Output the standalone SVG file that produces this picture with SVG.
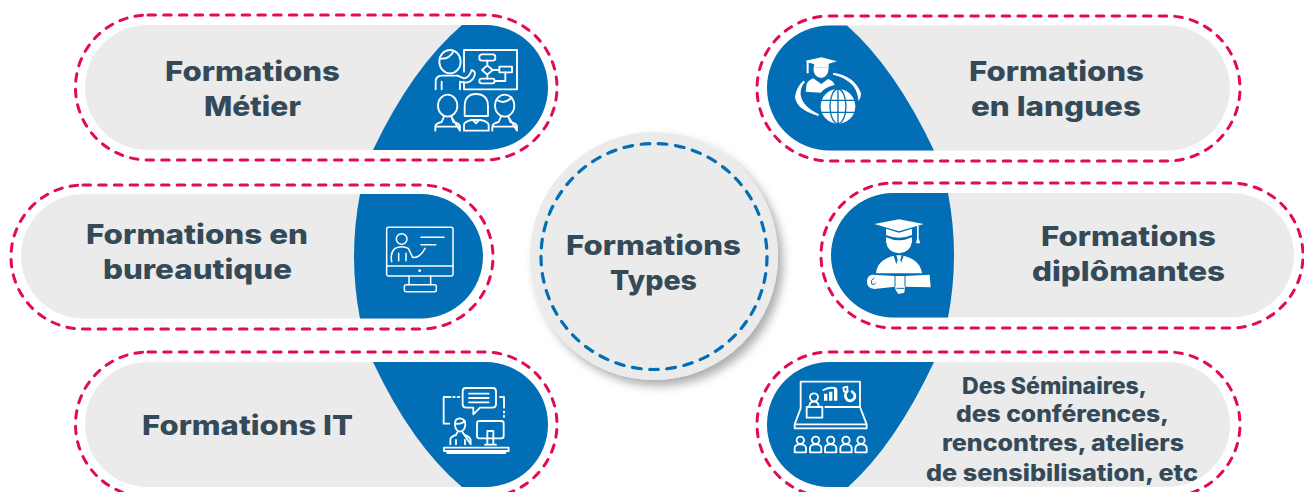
<svg xmlns="http://www.w3.org/2000/svg" width="1304" height="492" viewBox="0 0 1304 492">
<style>
.pill{fill:#ebebeb}
.blue{fill:#016eb6}
.dash{fill:none;stroke:#e20b55;stroke-width:3;stroke-dasharray:7.500 8.200;stroke-linecap:round}
text{font-family:"Inter","Liberation Sans",sans-serif;font-weight:800;fill:#354a58;font-size:27.5px;text-anchor:start}
.sm{font-size:22.5px}
.li{fill:none;stroke:#fff;stroke-width:5.500;stroke-linejoin:round;stroke-linecap:round}
.fi{fill:#fff;stroke:none}
</style>
<defs>
<filter id="sh" x="-20%" y="-20%" width="140%" height="140%"><feDropShadow dx="5" dy="6" stdDeviation="5" flood-color="#000" flood-opacity=".32"/></filter>
</defs>
<g id="connectors"></g>

<g id="node-metier">
<rect class="pill" x="85" y="25" width="463" height="125" rx="62.500"/>
<path class="blue" d="M462,25H485.500A62.500,62.500 0 0 1 485.500,150H373Q412,68 462,25Z"/>
<rect class="dash" x="75.500" y="15" width="481.500" height="145" rx="72.500"/>
<g transform="translate(370,10) scale(.33333)" class="li">
<path d="M282,185V120H441V238H282V215"/>
<rect x="328" y="133" width="48" height="19" rx="8"/>
<path d="M352,152V165M352,166L368,180L352,194L336,180ZM368,180H388"/>
<rect x="388" y="170" width="38" height="17"/>
<rect x="328" y="206" width="46" height="14" rx="7"/>
<path d="M374,213H406V187"/>
<path d="M352,194V206"/>
<ellipse cx="240" cy="155" rx="32" ry="35"/>
<path d="M210,145Q235,150 250,125"/>
<path d="M197,238V215Q197,198 215,197H262L282,205Q298,203 305,180Q322,185 310,205Q295,224 270,215V238M215,215V238"/>
<ellipse cx="233" cy="287" rx="29" ry="33"/>
<path d="M196,362V350Q196,340 215,336L222,320M244,320L250,336Q270,340 270,350V362ZM196,350H270"/>
<path d="M284,318V290Q284,252 318,252Q354,252 354,290V318Z"/>
<path d="M282,362V345Q282,335 305,330H332Q356,335 356,345V362ZM310,332L318,340L326,332"/>
<ellipse cx="404" cy="287" rx="29" ry="33"/>
<path d="M380,270Q405,285 425,262"/>
<path d="M367,362V350Q367,340 386,336L393,320M415,320L421,336Q441,340 441,350V362ZM367,350H441"/>
</g>
<text x="165" y="81" textLength="175" lengthAdjust="spacingAndGlyphs">Formations</text>
<text x="204" y="116" textLength="97" lengthAdjust="spacingAndGlyphs">Métier</text>
</g>

<g id="node-langues">
<rect class="pill" x="767" y="25.500" width="463" height="125" rx="62.500"/>
<path class="blue" d="M847,25.500H829.500A62.500,62.500 0 0 0 829.500,150.500H934Q895,68 847,25.500Z"/>
<rect class="dash" x="757" y="16" width="483" height="145" rx="72.500"/>
<g transform="translate(750,10) scale(.33333)">
<path class="fi" d="M167,152L214,142L261,154L236,161V172L192,172V162L176,158V190H170V156Z"/>
<path class="fi" d="M190,172H236Q236,202 213,204Q190,202 190,172Z"/>
<path class="fi" d="M167,245L170,222Q176,210 190,205L214,222L234,207Q250,212 254,225Q225,232 212,248Z"/>
<path class="fi" d="M160,212Q138,232 135,262Q140,300 205,318L207,313Q158,290 152,255Q150,232 165,216Z"/>
<path class="fi" d="M250,188Q315,198 333,250Q334,262 326,274Q322,235 300,218Q278,200 249,194Z"/>
<circle class="fi" cx="264" cy="289" r="52"/>
<g fill="none" stroke="#016eb6" stroke-width="4">
<ellipse cx="264" cy="289" rx="24" ry="52"/>
<path d="M264,237V341M212,271H316M212,307H316"/>
</g>
</g>
<text x="969" y="81" textLength="175" lengthAdjust="spacingAndGlyphs">Formations</text>
<text x="971" y="116" textLength="170" lengthAdjust="spacingAndGlyphs">en langues</text>
</g>

<g id="node-bureautique">
<rect class="pill" x="21" y="194" width="462" height="124.500" rx="62.250"/>
<path class="blue" d="M360,194H420.750A62.250,62.250 0 0 1 420.750,318.500H360Q348,256 360,194Z"/>
<rect class="dash" x="11" y="185" width="482" height="144" rx="72"/>
<g transform="translate(340,180) scale(.33333)" class="li" style="stroke-width:4.500">
<rect x="140" y="142" width="199" height="146" rx="5"/>
<path d="M140,258H339M207,288V314M272,288V314"/>
<rect x="193" y="314" width="96" height="21" rx="6"/>
<circle cx="185" cy="177" r="16"/>
<path d="M155,245Q150,218 165,205Q185,195 205,205L218,232Q240,235 255,205M176,220V242M198,220V242M243,172H312M243,194H287"/>
<circle cx="239" cy="272" r="2" fill="#fff"/>
</g>
<text x="86" y="244" textLength="222" lengthAdjust="spacingAndGlyphs">Formations en</text>
<text x="103" y="279" textLength="189" lengthAdjust="spacingAndGlyphs">bureautique</text>
</g>

<g id="node-diplomantes">
<rect class="pill" x="831" y="193" width="463" height="124.500" rx="62.250"/>
<path class="blue" d="M948,193H893.250A62.250,62.250 0 0 0 893.250,317.500H948Q960,255 948,193Z"/>
<rect class="dash" x="821" y="183" width="482" height="145" rx="72.500"/>
<g transform="translate(815,180) scale(.33333)">
<path class="fi" d="M178,132L252,118L326,132L252,154Z"/>
<path class="fi" d="M213,146L252,158L291,146V165Q252,182 213,165Z"/>
<path class="fi" d="M213,172Q252,190 291,172V185Q285,218 252,220Q218,218 213,185Z"/>
<path class="fi" d="M306,138H311V176L316,190H303L306,176Z"/>
<path class="fi" d="M183,280Q186,240 236,227L250,272L266,227Q316,240 321,280Z"/>
<path class="fi" d="M244,226H260L256,240L262,258L252,275L242,258L248,240Z"/>
<path class="fi" d="M172,284L240,288H268L344,284L347,322L270,320L268,338L250,342L242,330L240,320L178,327Q156,325 156,305Q156,286 172,284Z"/>
<path fill="none" stroke="#016eb6" stroke-width="3" d="M178,294Q165,300 170,312Q178,318 182,308M240,288V320M270,288V320M244,325H268"/>
</g>
<text x="1041" y="246" textLength="175" lengthAdjust="spacingAndGlyphs">Formations</text>
<text x="1032" y="281" textLength="193" lengthAdjust="spacingAndGlyphs">diplômantes</text>
</g>

<g id="node-it">
<rect class="pill" x="85" y="362" width="463" height="125" rx="62.500"/>
<path class="blue" d="M373,362H485.500A62.500,62.500 0 0 1 485.500,487H462Q412,445 373,362Z"/>
<rect class="dash" x="75.500" y="352" width="481.500" height="145" rx="72.500"/>
<g transform="translate(370,345) scale(.33333)" class="li">
<path d="M288,129H368Q378,129 378,139V178Q378,188 368,188H330L310,208V188H288Q278,188 278,178V139Q278,129 288,129Z"/>
<path d="M297,146H356M297,159H356M297,172H356"/>
<path d="M242,156H221V236H238M250,156H254M263,156H268M390,156H402V188M402,199V203M402,212V216"/>
<path d="M255,236Q255,220 270,220Q287,222 286,240Q284,258 270,260Q256,258 255,240ZM255,235Q272,240 285,228"/>
<path d="M241,298V285Q241,275 258,270L262,262M278,262L283,270Q300,275 302,285V298ZM258,298V285M285,298V285"/>
<rect x="321" y="228" width="80" height="52" rx="7"/>
<path d="M352,280V258H370V298M352,280V298M345,299H378"/>
<rect x="222" y="308" width="194" height="10"/>
<path d="M232,318V324H406V318"/>
</g>
<text x="142" y="435" textLength="211" lengthAdjust="spacingAndGlyphs">Formations IT</text>
</g>

<g id="node-seminaires">
<rect class="pill" x="767" y="362" width="463" height="125" rx="62.500"/>
<path class="blue" d="M934,362H829.500A62.500,62.500 0 0 0 829.500,487H848Q895,445 934,362Z"/>
<rect class="dash" x="757" y="352" width="483" height="145" rx="72.500"/>
<g transform="translate(750,345) scale(.33333)" class="li">
<path d="M152,190V110H330V186M226,186H330M152,190L134,238V250H350V238L330,186M134,238H350"/>
<circle cx="192" cy="157" r="12"/>
<path d="M178,185Q178,170 192,170Q206,170 206,185"/>
<rect x="170" y="186" width="47" height="32"/>
<path d="M222,146H232V167H222ZM237,140H247V167H237ZM252,132H262V167H252Z" style="fill:#fff;stroke:none"/>
<path d="M220,135Q240,125 258,130"/>
<path d="M292,138Q280,152 292,165Q305,172 314,158Q317,147 306,140" style="stroke-width:8"/>
<path d="M280,128L292,125V140L282,140Z"/>
<g>
<circle cx="151" cy="286" r="11"/><path d="M134,322V310Q134,298 151,298Q168,298 168,310V322Z"/>
<circle cx="197" cy="286" r="11"/><path d="M180,322V310Q180,298 197,298Q214,298 214,310V322Z"/>
<circle cx="242" cy="286" r="11"/><path d="M225,322V310Q225,298 242,298Q259,298 259,310V322Z"/>
<circle cx="288" cy="286" r="11"/><path d="M271,322V310Q271,298 288,298Q305,298 305,310V322Z"/>
<circle cx="333" cy="286" r="11"/><path d="M316,322V310Q316,298 333,298Q350,298 350,310V322Z"/>
</g>
</g>
<text class="sm" x="962" y="394" textLength="185" lengthAdjust="spacingAndGlyphs">Des Séminaires,</text>
<text class="sm" x="956" y="422" textLength="213" lengthAdjust="spacingAndGlyphs">des conférences,</text>
<text class="sm" x="942" y="451" textLength="242" lengthAdjust="spacingAndGlyphs">rencontres, ateliers</text>
<text class="sm" x="926" y="481" textLength="272" lengthAdjust="spacingAndGlyphs">de sensibilisation, etc</text>
</g>

<g id="node-center">
<circle cx="654" cy="256" r="124" fill="#ebebeb" filter="url(#sh)"/>
<circle cx="654" cy="256.500" r="113" fill="none" stroke="#016eb6" stroke-width="3.200" stroke-dasharray="8.700 8.600" stroke-linecap="round"/>
<text x="566" y="255" textLength="175" lengthAdjust="spacingAndGlyphs">Formations</text>
<text x="610" y="290" textLength="87" lengthAdjust="spacingAndGlyphs">Types</text>
</g>
</svg>
